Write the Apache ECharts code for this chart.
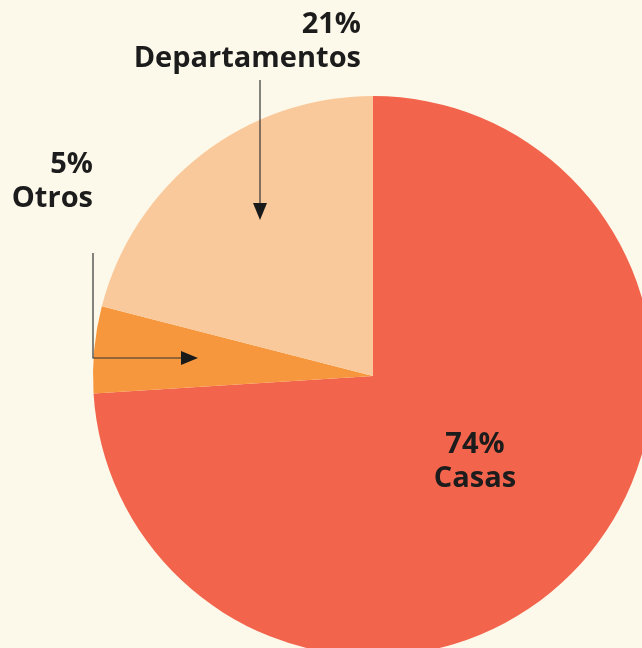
<!DOCTYPE html>
<html>
<head>
<meta charset="utf-8">
<script src="https://cdn.jsdelivr.net/npm/echarts@6/dist/echarts.min.js"></script>
<style>
  html, body { margin: 0; padding: 0; background: #fdf9ea; }
  #chart { width: 642px; height: 648px; }
</style>
</head>
<body>
<div id="chart"></div>
<script>
// vivienda por tipo
var categories = ['Casas', 'Otros', 'Departamentos'];
var shares = [74, 5, 21];
var colors = ['#f2644c', '#f7973d', '#fac99b'];

// where each label goes (x, y, align)
var labelSpots = {
  Casas: [475, 462, 'center'],
  Otros: [93, 182, 'right'],
  Departamentos: [361, 42, 'right']
};

var chartDom = document.getElementById('chart');
var myChart = echarts.init(chartDom);
var option;

var pieData = categories.map(function (name, i) {
  return { name: name, value: shares[i], itemStyle: { color: colors[i] } };
});

function arrowHead(x, y, dir) {
  // small filled triangle, tip at (x, y)
  var pts = dir === 'down'
    ? [[x, y], [x - 7, y - 17], [x + 7, y - 17]]
    : [[x, y], [x - 17, y - 7], [x - 17, y + 7]];
  return { type: 'polygon', shape: { points: pts }, style: { fill: '#1a1a1a' }, z: 10 };
}

option = {
  backgroundColor: '#fdf9ea',
  animation: false,
  series: [
    {
      type: 'pie',
      center: [373, 376],
      radius: 280,
      startAngle: 90,
      clockwise: true,
      data: pieData,
      label: {
        show: true,
        position: 'inside',
        formatter: '{d}%\n{b}',
        color: '#1c1c1c',
        fontFamily: 'Open Sans',
        fontWeight: 'bold',
        fontSize: 29,
        lineHeight: 34
      },
      labelLine: { show: false },
      labelLayout: function (params) {
        var s = labelSpots[categories[params.dataIndex]];
        return { x: s[0], y: s[1], align: s[2], verticalAlign: 'middle' };
      },
      emphasis: { disabled: true }
    }
  ],
  graphic: [
    { type: 'line', shape: { x1: 260, y1: 80, x2: 260, y2: 205 }, style: { stroke: '#333', lineWidth: 1.2 }, z: 10 },
    arrowHead(260, 220, 'down'),
    { type: 'polyline', shape: { points: [[93, 253], [93, 358], [185, 358]] }, style: { stroke: '#333', lineWidth: 1.2, fill: null }, z: 10 },
    arrowHead(198, 358, 'right')
  ]
};

option && myChart.setOption(option);
</script>
</body>
</html>
